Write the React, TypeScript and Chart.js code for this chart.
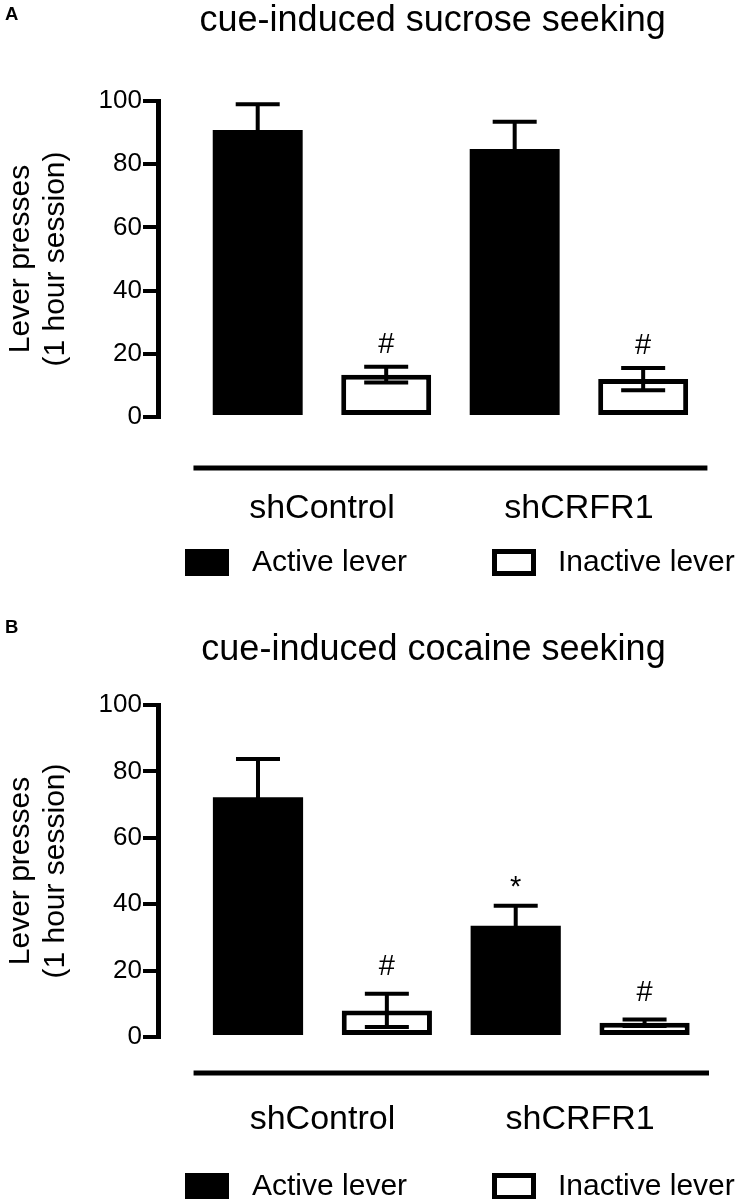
import React, { useEffect, useRef } from 'react';
import { Chart, registerables } from 'chart.js';

Chart.register(...registerables);

const FONT = '"Liberation Sans", Arial, Helvetica, sans-serif';

// ---------------- data ----------------
const groupLabels = ['shControl', 'shCRFR1'];
const seriesLabels = ['Active lever', 'Inactive lever'];
const yTickValues = [0, 20, 40, 60, 80, 100];
const yAxisTitle = ['Lever presses', '(1 hour session)'];

const activeBarPositions = [1, 3];
const inactiveBarPositions = [2, 4];
const groupLabelPositions = [1.5, 3.5];
const groupLineSpan = [0.5, 4.5];
const xAxisRange = [0.224, 4.5];

const sucroseActive = [90.8, 84.8];
const sucroseActiveSem = [8.2, 8.6];
const sucroseInactive = [13.4, 12.0];
const sucroseInactiveSem = [2.5, 3.5];
const sucroseActiveMarks = ['', ''];
const sucroseInactiveMarks = ['#', '#'];

const cocaineActive = [72.2, 33.5];
const cocaineActiveSem = [11.5, 6.0];
const cocaineInactive = [8.0, 4.3];
const cocaineInactiveSem = [5.0, 1.0];
const cocaineActiveMarks = ['', '*'];
const cocaineInactiveMarks = ['#', '#'];

// ---------------- layout / style ----------------
type Series = { values: number[]; sem: number[]; marks: string[]; positions: number[] };
type PanelSpec = {
  letter: string;
  title: string;
  height: number;
  active: Series;
  inactive: Series;
  titlePadTop: number;
  titlePadBottom: number;
  xAxisHeight: number;
  padBottom: number;
  tickPadding: number;
  lineOffset: number;
  legendOffset: number;
  markGap: number;
  letterBaseline: number;
};

const panels: PanelSpec[] = [
  {
    letter: 'A',
    title: 'cue-induced sucrose seeking',
    height: 600,
    active: { values: sucroseActive, sem: sucroseActiveSem, marks: sucroseActiveMarks, positions: activeBarPositions },
    inactive: { values: sucroseInactive, sem: sucroseInactiveSem, marks: sucroseInactiveMarks, positions: inactiveBarPositions },
    titlePadTop: 3,
    titlePadBottom: 62,
    xAxisHeight: 140,
    padBottom: 43,
    tickPadding: 75,
    lineOffset: 51,
    legendOffset: 132,
    markGap: 14,
    letterBaseline: 20,
  },
  {
    letter: 'B',
    title: 'cue-induced cocaine seeking',
    height: 599,
    active: { values: cocaineActive, sem: cocaineActiveSem, marks: cocaineActiveMarks, positions: activeBarPositions },
    inactive: { values: cocaineInactive, sem: cocaineInactiveSem, marks: cocaineInactiveMarks, positions: inactiveBarPositions },
    titlePadTop: 32,
    titlePadBottom: 37,
    xAxisHeight: 140,
    padBottom: 22,
    tickPadding: 66,
    lineOffset: 36,
    legendOffset: 136,
    markGap: 18.5,
    letterBaseline: 33,
  },
];

const legendBoxX = [185, 492];
const legendTextX = [252, 558];
const legendBoxW = 44;
const legendBoxH = 27;

function makeDecor(spec: PanelSpec) {
  return {
    id: 'panelDecor',
    afterDatasetsDraw(chart: any) {
      const ctx = chart.ctx as CanvasRenderingContext2D;
      const y = chart.scales.y;
      const seriesList = [spec.active, spec.inactive];
      ctx.save();
      seriesList.forEach((s, di) => {
        const meta = chart.getDatasetMeta(di);
        s.values.forEach((v, j) => {
          const el = meta.data[j];
          if (!el) return;
          const cx = el.x;
          const top = y.getPixelForValue(v + s.sem[j]);
          const bot = y.getPixelForValue(v - s.sem[j]);
          const half = 22;
          ctx.strokeStyle = '#000';
          ctx.lineWidth = 4;
          ctx.lineCap = 'butt';
          ctx.beginPath();
          ctx.moveTo(cx, top);
          ctx.lineTo(cx, bot);
          ctx.moveTo(cx - half, top);
          ctx.lineTo(cx + half, top);
          ctx.moveTo(cx - half, bot);
          ctx.lineTo(cx + half, bot);
          ctx.stroke();
          const mark = s.marks[j];
          if (mark) {
            ctx.fillStyle = '#000';
            ctx.font = `29px ${FONT}`;
            ctx.textAlign = 'center';
            ctx.textBaseline = 'alphabetic';
            const m = ctx.measureText(mark);
            const targetBottom = top - spec.markGap;
            ctx.fillText(mark, cx, targetBottom - m.actualBoundingBoxDescent);
          }
        });
      });
      ctx.restore();
    },
    afterDraw(chart: any) {
      const ctx = chart.ctx as CanvasRenderingContext2D;
      const x = chart.scales.x;
      const area = chart.chartArea;
      ctx.save();
      // panel letter
      ctx.fillStyle = '#000';
      ctx.font = `bold 18.5px ${FONT}`;
      ctx.textAlign = 'left';
      ctx.textBaseline = 'alphabetic';
      ctx.fillText(spec.letter, 5, spec.letterBaseline);
      // group line below the bars
      const ly = area.bottom + spec.lineOffset;
      ctx.strokeStyle = '#000';
      ctx.lineWidth = 5;
      ctx.beginPath();
      ctx.moveTo(x.getPixelForValue(groupLineSpan[0]), ly);
      ctx.lineTo(x.getPixelForValue(groupLineSpan[1]), ly);
      ctx.stroke();
      // legend
      const top = area.bottom + spec.legendOffset;
      chart.data.datasets.forEach((ds: any, i: number) => {
        const bx = legendBoxX[i];
        ctx.fillStyle = ds.backgroundColor;
        ctx.fillRect(bx, top, legendBoxW, legendBoxH);
        if (ds.borderWidth) {
          ctx.strokeStyle = ds.borderColor;
          ctx.lineWidth = ds.borderWidth;
          const h = ds.borderWidth / 2;
          ctx.strokeRect(bx + h, top + h, legendBoxW - ds.borderWidth, legendBoxH - ds.borderWidth);
        }
        ctx.fillStyle = '#000';
        ctx.font = `30px ${FONT}`;
        ctx.textAlign = 'left';
        ctx.textBaseline = 'middle';
        ctx.fillText(ds.label, legendTextX[i], top + legendBoxH / 2);
      });
      ctx.restore();
    },
  };
}

function Panel({ spec }: { spec: PanelSpec }) {
  const ref = useRef<HTMLCanvasElement | null>(null);
  useEffect(() => {
    if (!ref.current) return;
    const chart = new Chart(ref.current, {
      type: 'bar',
      data: {
        datasets: [
          {
            label: seriesLabels[0],
            data: spec.active.positions.map((px, i) => ({ x: px, y: spec.active.values[i] })),
            backgroundColor: '#000',
            borderColor: '#000',
            borderWidth: 0,
            grouped: false,
            categoryPercentage: 1,
            barPercentage: 0.7,
          } as any,
          {
            label: seriesLabels[1],
            data: spec.inactive.positions.map((px, i) => ({ x: px, y: spec.inactive.values[i] })),
            backgroundColor: '#fff',
            borderColor: '#000',
            borderWidth: 5,
            borderSkipped: false,
            grouped: false,
            categoryPercentage: 1,
            barPercentage: 0.7,
          } as any,
        ],
      },
      options: {
        responsive: false,
        animation: false,
        devicePixelRatio: 1,
        events: [],
        layout: { padding: { left: 0, right: 26, top: 0, bottom: spec.padBottom } },
        plugins: {
          legend: { display: false },
          tooltip: { enabled: false },
          title: {
            display: true,
            text: spec.title,
            fullSize: false,
            color: '#000',
            font: { family: FONT, size: 36, weight: 'normal', lineHeight: 1 },
            padding: { top: spec.titlePadTop, bottom: spec.titlePadBottom },
          },
        },
        scales: {
          x: {
            type: 'linear',
            min: xAxisRange[0],
            max: xAxisRange[1],
            bounds: 'data',
            offset: false,
            grid: { display: false, drawTicks: false },
            border: { display: false },
            ticks: {
              padding: spec.tickPadding,
              color: '#000',
              font: { family: FONT, size: 34, lineHeight: 1 },
              autoSkip: false,
              maxRotation: 0,
              minRotation: 0,
              callback: (_v: any, i: number) => groupLabels[i] ?? '',
            },
            afterBuildTicks: (s: any) => {
              s.ticks = groupLabelPositions.map((value) => ({ value }));
            },
            afterFit: (s: any) => {
              s.height = spec.xAxisHeight;
            },
          },
          y: {
            type: 'linear',
            min: 0,
            max: 100,
            grid: {
              drawOnChartArea: false,
              drawTicks: true,
              tickLength: 15,
              tickWidth: 4,
              tickColor: '#000',
              color: '#000',
              lineWidth: 4,
            },
            border: { display: true, width: 5, color: '#000' },
            ticks: { padding: 1, color: '#000', font: { family: FONT, size: 26 } },
            afterBuildTicks: (s: any) => {
              s.ticks = yTickValues.map((value) => ({ value }));
            },
            afterFit: (s: any) => {
              s.width = 158;
            },
            title: {
              display: true,
              text: yAxisTitle,
              color: '#000',
              font: { family: FONT, size: 30, lineHeight: 1.17 },
              padding: { top: 3.5, bottom: 0 },
            },
          },
        },
      } as any,
      plugins: [makeDecor(spec) as any],
    });
    return () => chart.destroy();
  }, [spec]);
  return <canvas ref={ref} width={735} height={spec.height} style={{ display: 'block' }} />;
}

export default function App() {
  return (
    <div style={{ position: 'absolute', left: 0, top: 0, width: 735, height: 1199, background: '#fff' }}>
      {panels.map((p) => (
        <Panel key={p.letter} spec={p} />
      ))}
    </div>
  );
}
